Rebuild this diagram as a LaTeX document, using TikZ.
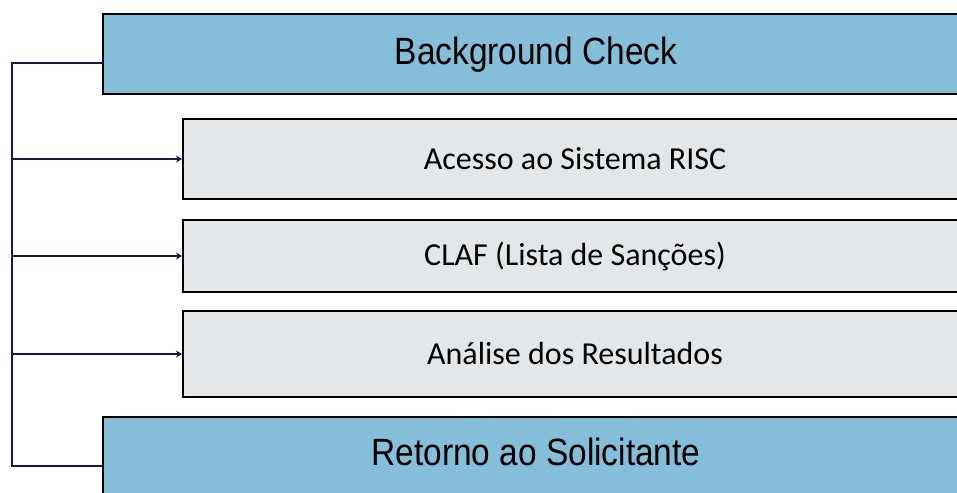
\documentclass[tikz,border=0pt]{standalone}
\usepackage{fontspec}
\setmainfont{Carlito}
\newfontfamily\condfont[FakeStretch=0.88]{Liberation Sans}
\usetikzlibrary{arrows.meta}

\definecolor{hdrblue}{HTML}{85BED9}
\definecolor{stepgray}{HTML}{E3E7EA}
\definecolor{linknavy}{HTML}{1B1452}

\begin{document}
\begin{tikzpicture}[x=1pt,y=-1pt]
        \useasboundingbox (0,0) rectangle (957,492);
        \clip (0,0) rectangle (957,492);
        \begin{scope}[every node/.style={draw=black, line width=2pt, inner sep=0pt}]
                \node[fill=hdrblue, minimum width=866pt, minimum height=80pt, font=\condfont\fontsize{38}{42}\selectfont] (BG) at (536,54.5) {Background Check};
                \node[fill=stepgray, minimum width=784pt, minimum height=80pt, font=\fontsize{32}{36}\selectfont] (RISC) at (575,159) {Acesso ao Sistema RISC};
                \node[fill=stepgray, minimum width=784pt, minimum height=72pt, font=\fontsize{32}{36}\selectfont] (CLAF) at (575,256) {CLAF (Lista de Sanções)};
                \node[fill=stepgray, minimum width=784pt, minimum height=86pt, font=\fontsize{32}{36}\selectfont] (RES) at (575,354) {Análise dos Resultados};
                \node[fill=hdrblue, minimum width=866pt, minimum height=98pt, text depth=29pt, font=\condfont\fontsize{38}{42}\selectfont] (RET) at (536,466) {Retorno ao Solicitante};
        \end{scope}
        \coordinate (spine) at (12,63);
        \begin{scope}[every path/.style={linknavy, line width=1.5pt}]
                \draw ([yshift=-8.5pt]BG.west) -- (spine) |- (RET.west);
                \path (spine |- RISC.west) edge[-{Stealth[length=6pt,width=7pt]}] (RISC.west);
                \path (spine |- CLAF.west) edge[-{Stealth[length=6pt,width=7pt]}] (CLAF.west);
                \path (spine |- RES.west) edge[-{Stealth[length=6pt,width=7pt]}] (RES.west);
        \end{scope}
\end{tikzpicture}
\end{document}
